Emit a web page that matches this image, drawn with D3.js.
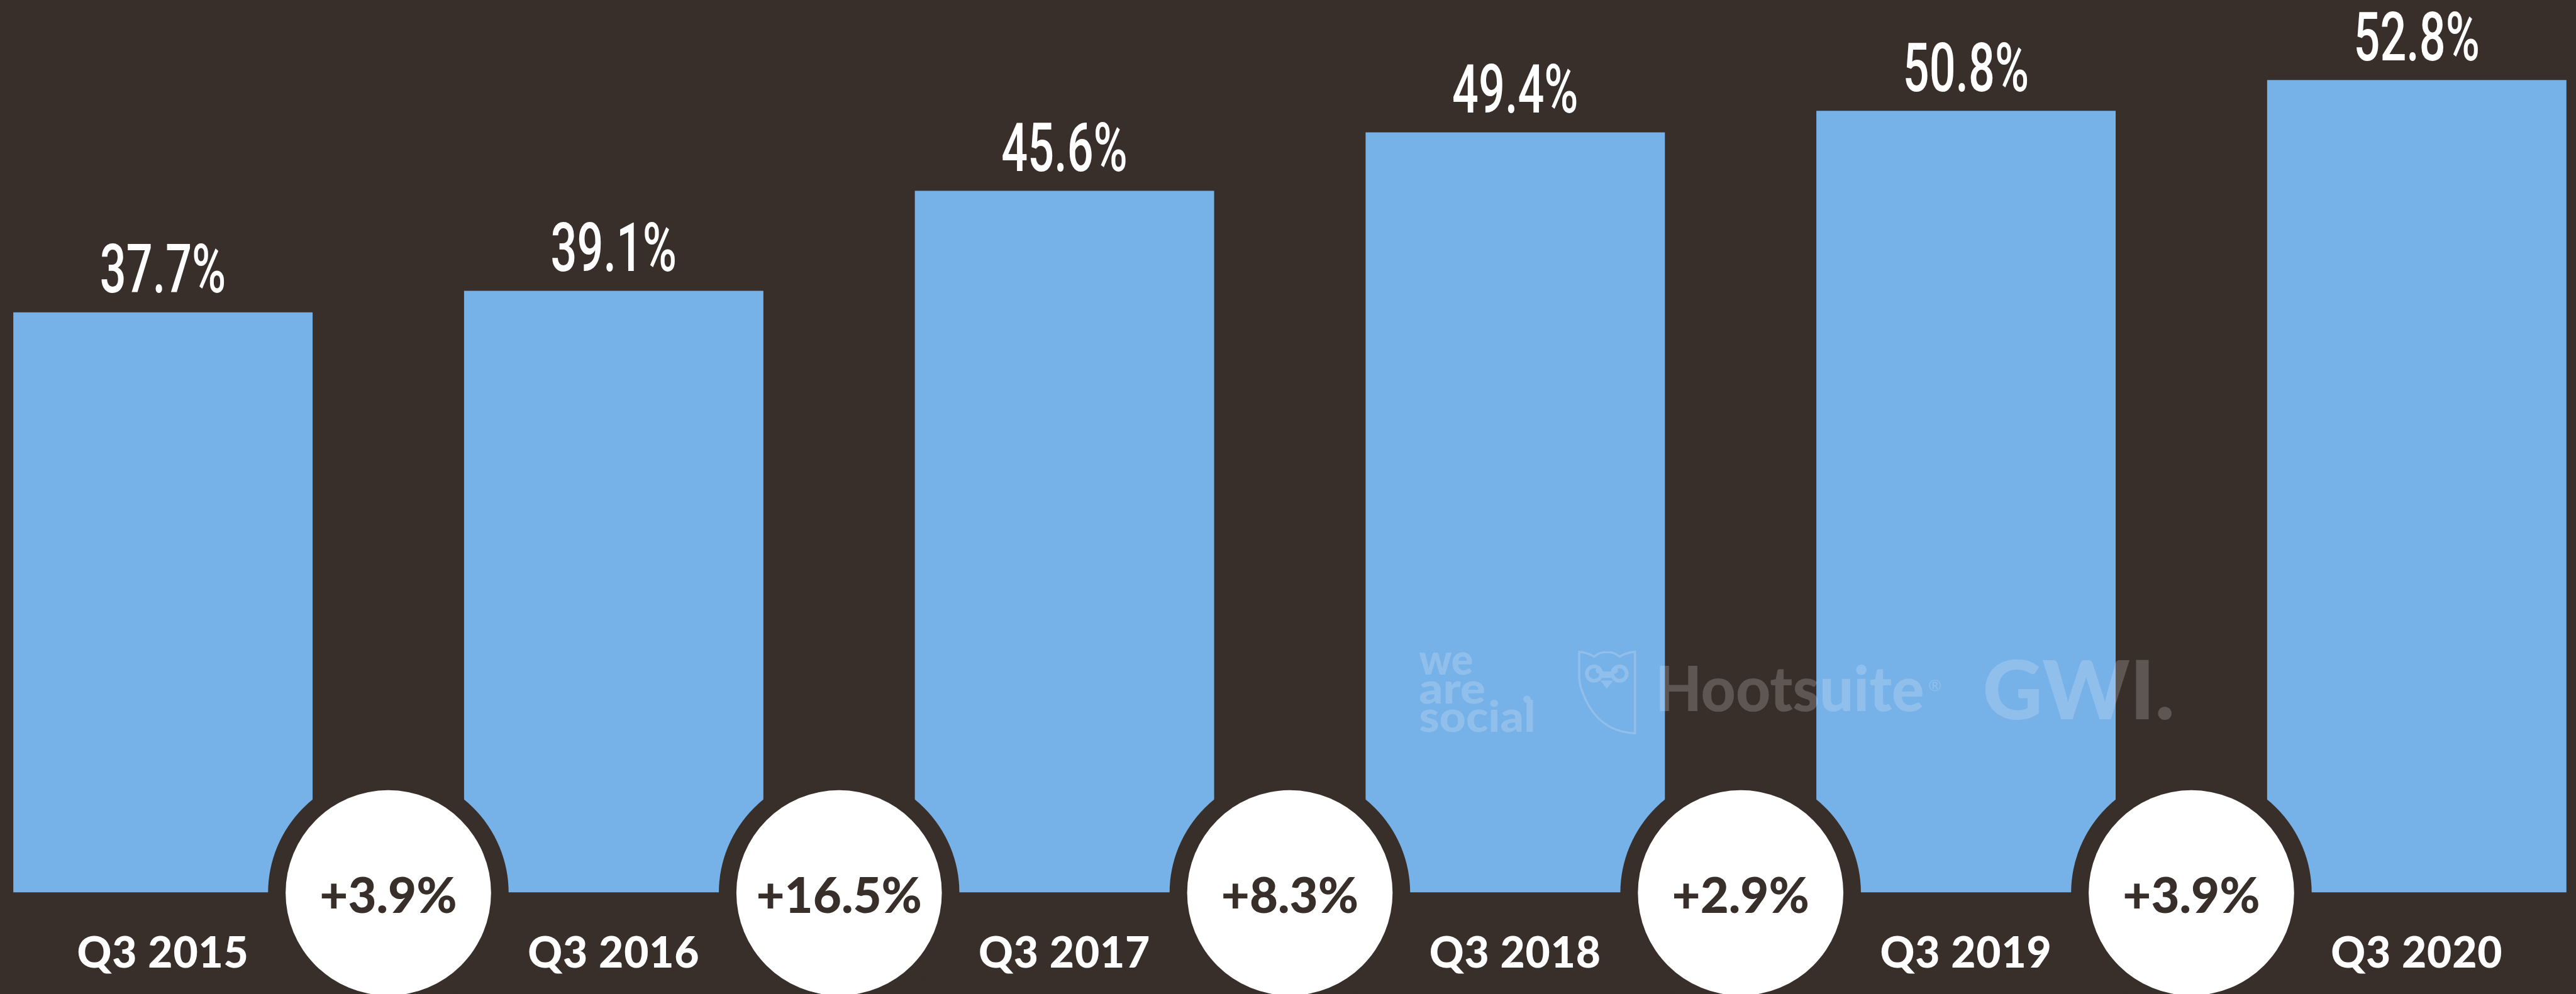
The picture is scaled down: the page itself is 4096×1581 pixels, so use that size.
<!DOCTYPE html>
<html>
<head>
<meta charset="utf-8">
<script src="https://cdnjs.cloudflare.com/ajax/libs/d3/7.8.5/d3.min.js"></script>
<style>
  html, body { margin: 0; padding: 0; background: #382f2a; overflow: hidden; }
  svg { display: block; }
</style>
</head>
<body>
<svg id="chart"></svg>
<script>
// data
var categories = ["Q3 2015", "Q3 2016", "Q3 2017", "Q3 2018", "Q3 2019", "Q3 2020"];
var values = [37.7, 39.1, 45.6, 49.4, 50.8, 52.8];
var changes = ["+3.9%", "+16.5%", "+8.3%", "+2.9%", "+3.9%"];

var W = 4840, H = 1868;
var bg = "#382f2a", barColor = "#76b1e8";

var svg = d3.select("#chart")
  .attr("width", 4096)
  .attr("height", 1581)
  .attr("viewBox", "0 0 " + W + " " + H);

svg.append("rect").attr("width", W).attr("height", H).attr("fill", bg);

var x = d3.scaleBand()
  .domain(categories)
  .range([25, 4822])
  .paddingInner(0.336)
  .paddingOuter(0);

var y = d3.scaleLinear()
  .domain([0, 58])
  .range([1677, 0]);

var data = categories.map(function(c, i) { return {cat: c, value: values[i]}; });

// bars
svg.append("g").selectAll("rect")
  .data(data)
  .enter().append("rect")
    .attr("x", function(d) { return x(d.cat); })
    .attr("y", function(d) { return y(d.value); })
    .attr("width", x.bandwidth())
    .attr("height", function(d) { return y(0) - y(d.value); })
    .attr("fill", barColor);

// value labels (condensed)
svg.append("g").selectAll("text")
  .data(data)
  .enter().append("text")
    .attr("x", function(d) { return x(d.cat) + x.bandwidth() / 2; })
    .attr("y", function(d) { return y(d.value) - 37; })
    .attr("text-anchor", "middle")
    .attr("font-family", "Roboto, 'DejaVu Sans Condensed', sans-serif")
    .attr("font-weight", 500)
    .attr("font-size", 126)
    .attr("textLength", 237)
    .attr("lengthAdjust", "spacingAndGlyphs")
    .attr("fill", "#ffffff")
    .text(function(d) { return d.value.toFixed(1) + "%"; });

// watermark
var wm = svg.append("g").attr("opacity", 0.19).attr("fill", "#ffffff");
var wasLines = ["we", "are", "social"];
var wasBase = [1268, 1322, 1375];
var wasLen = [102, 125, 219];
var was = wm.append("text")
  .attr("font-family", "Lato, sans-serif")
  .attr("font-weight", 900)
  .attr("font-size", 82);
was.selectAll("tspan")
  .data(wasLines)
  .enter().append("tspan")
    .attr("x", 2666)
    .attr("y", function(d, i) { return wasBase[i]; })
    .attr("textLength", function(d, i) { return wasLen[i]; })
    .attr("lengthAdjust", "spacingAndGlyphs")
    .text(function(d) { return d; });
wm.append("circle").attr("cx", 2869).attr("cy", 1314).attr("r", 7);

// owl outline
var owl = wm.append("g");
owl.append("path")
  .attr("d", "M2967,1225 Q2982,1226 2995,1234 Q3008,1224 3019,1226 Q3031,1224 3043,1234 Q3056,1226 3072,1225 L3072,1378 Q3000,1375 2973,1300 Q2967,1285 2967,1270 Z")
  .attr("fill", "none")
  .attr("stroke", "#ffffff")
  .attr("stroke-width", 4);
[2995, 3043].forEach(function(cx) {
  owl.append("circle").attr("cx", cx).attr("cy", 1266).attr("r", 13.5)
    .attr("fill", "none").attr("stroke", "#ffffff").attr("stroke-width", 7);
});
owl.append("circle").attr("cx", 3004).attr("cy", 1260).attr("r", 6);
owl.append("circle").attr("cx", 3034).attr("cy", 1260).attr("r", 6);
owl.append("rect").attr("x", 3008).attr("y", 1262).attr("width", 22).attr("height", 12);
owl.append("path").attr("d", "M3007,1279 L3031,1279 L3019,1294 Z");

wm.append("text")
  .attr("x", 3110).attr("y", 1336)
  .attr("font-family", "Lato, sans-serif")
  .attr("font-weight", 900)
  .attr("font-size", 116)
  .attr("textLength", 505)
  .attr("lengthAdjust", "spacingAndGlyphs")
  .text("Hootsuite");
wm.append("text")
  .attr("x", 3623).attr("y", 1298)
  .attr("font-family", "Lato, sans-serif")
  .attr("font-size", 30)
  .text("®");
wm.append("text")
  .attr("x", 3725).attr("y", 1352)
  .attr("font-family", "Lato, sans-serif")
  .attr("font-weight", 900)
  .attr("font-size", 153)
  .attr("textLength", 361)
  .attr("lengthAdjust", "spacingAndGlyphs")
  .text("GWI.");

// change circles between bars
var step = x.step(), bw = x.bandwidth();
var circ = changes.map(function(c, i) {
  return {label: c, cx: x(categories[i]) + bw + (step - bw) / 2};
});
var cy = y(0) + 1;

var cg = svg.append("g");
cg.selectAll("circle.ring")
  .data(circ)
  .enter().append("circle")
    .attr("class", "ring")
    .attr("cx", function(d) { return d.cx; })
    .attr("cy", cy)
    .attr("r", 226)
    .attr("fill", bg);
cg.selectAll("circle.disc")
  .data(circ)
  .enter().append("circle")
    .attr("class", "disc")
    .attr("cx", function(d) { return d.cx; })
    .attr("cy", cy)
    .attr("r", 193)
    .attr("fill", "#ffffff");
cg.selectAll("text")
  .data(circ)
  .enter().append("text")
    .attr("x", function(d) { return d.cx; })
    .attr("y", 1716)
    .attr("text-anchor", "middle")
    .attr("font-family", "Lato, sans-serif")
    .attr("font-weight", 900)
    .attr("font-size", 92)
    .attr("fill", bg)
    .text(function(d) { return d.label; });

// category labels
svg.append("g").selectAll("text")
  .data(categories)
  .enter().append("text")
    .attr("x", function(d) { return x(d) + bw / 2; })
    .attr("y", 1818)
    .attr("text-anchor", "middle")
    .attr("font-family", "Lato, sans-serif")
    .attr("font-weight", 900)
    .attr("font-size", 80)
    .attr("letter-spacing", 1)
    .attr("fill", "#ffffff")
    .text(function(d) { return d; });
</script>
</body>
</html>
